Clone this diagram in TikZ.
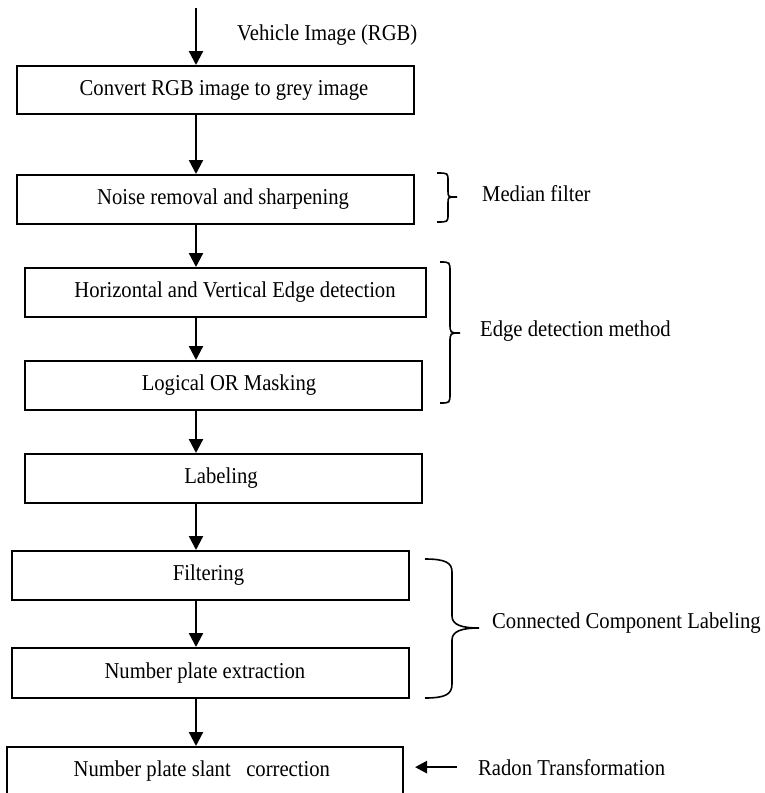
\documentclass[tikz,border=0pt]{standalone}
\usepackage{fontspec}
\setmainfont[FakeStretch=0.91]{Liberation Serif}
\usetikzlibrary{arrows.meta}
% shift a box label sideways by #1 pt without changing its width
\newcommand\offsettext[2]{\hspace*{#1pt}#2\hspace*{-#1pt}}

\begin{document}
\begin{tikzpicture}[x=1pt,y=-1pt,
  font=\fontsize{22.7}{26}\selectfont,
  stepbox/.style={draw, line width=2pt, minimum height=49pt, inner sep=0pt,
                  text height=15pt, text depth=5pt},
  flow/.style={line width=2.3pt, -{Triangle[length=14pt,width=14pt]}},
  sideflow/.style={line width=2.6pt, -{Triangle[length=12pt,width=12pt]}},
  note/.style={anchor=base west, inner sep=0pt},
  bracepath/.style={line width=1.6pt}]

\useasboundingbox (0,0) rectangle (764,793);

% processing steps
\node[stepbox, minimum width=397pt, minimum height=48pt] (b1) at (215.5,90)
  {\offsettext{8.5}{Convert RGB image to grey image}};
\node[stepbox, minimum width=397pt] (b2) at (215.5,199.5)
  {\offsettext{7.5}{Noise removal and sharpening}};
\node[stepbox, minimum width=401pt] (b3) at (225.5,292.5)
  {\offsettext{9.5}{Horizontal and Vertical Edge detection}};
\node[stepbox, minimum width=397pt] (b4) at (223.5,385.5)
  {\offsettext{5.5}{Logical OR Masking}};
\node[stepbox, minimum width=397pt] (b5) at (223.5,478.5)
  {\offsettext{-2.5}{Labeling}};
\node[stepbox, minimum width=397pt] (b6) at (210.5,575.5)
  {\offsettext{-2}{Filtering}};
\node[stepbox, minimum width=397pt, minimum height=50pt] (b7) at (210.5,673)
  {\offsettext{-5.6}{Number plate extraction}};
\node[stepbox, minimum width=396pt] (b8) at (205,771.5)
  {\offsettext{-3.2}{Number plate slant\ \ \ correction}};

% vertical flow line
\coordinate (axis) at (196,0);
\coordinate (in) at (196,8);

\draw[flow] (in) -- (b1.north -| axis);
\draw[flow] (b1.south -| axis) -- (b2.north -| axis);
\draw[flow] (b2.south -| axis) -- (b3.north -| axis);
\draw[flow] (b3.south -| axis) -- (b4.north -| axis);
\draw[flow] (b4.south -| axis) -- (b5.north -| axis);
\draw[flow] (b5.south -| axis) -- (b6.north -| axis);
\draw[flow] (b6.south -| axis) -- (b7.north -| axis);
\draw[flow] (b7.south -| axis) -- (b8.north -| axis);

% side notes
\node[note] (vin) at (237,40) {Vehicle Image (RGB)};
\node[note] (median) at (482,201) {Median filter};
\node[note] (edge) at (480,336) {Edge detection method};
\node[note] (ccl) at (492,628) {Connected Component Labeling};
\node[note] (radon) at (478,775) {Radon Transformation};

\draw[sideflow, shorten >=11pt] ([xshift=-21pt]radon.west) -- (b8.east |- radon.west);

% braces grouping the steps
\draw[bracepath] (437,173) .. controls (448,173) .. (448,181) -- (448,191)
  .. controls (448,197) .. (457,197) .. controls (448,197) .. (448,203)
  -- (448,214) .. controls (448,222) .. (437,222);
\draw[bracepath] (440,262) .. controls (450,262) .. (450,272) -- (450,323)
  .. controls (450,333) .. (460,333) .. controls (450,333) .. (450,343)
  -- (450,393) .. controls (450,403) .. (440,403);
\draw[bracepath] (425,559) .. controls (446,559) and (452,563) .. (452,572)
  -- (452,616) .. controls (452,625) and (462,628) .. (479,628)
  .. controls (462,628) and (452,631) .. (452,640)
  -- (452,684) .. controls (452,694) and (446,698) .. (425,698);
\end{tikzpicture}
\end{document}
